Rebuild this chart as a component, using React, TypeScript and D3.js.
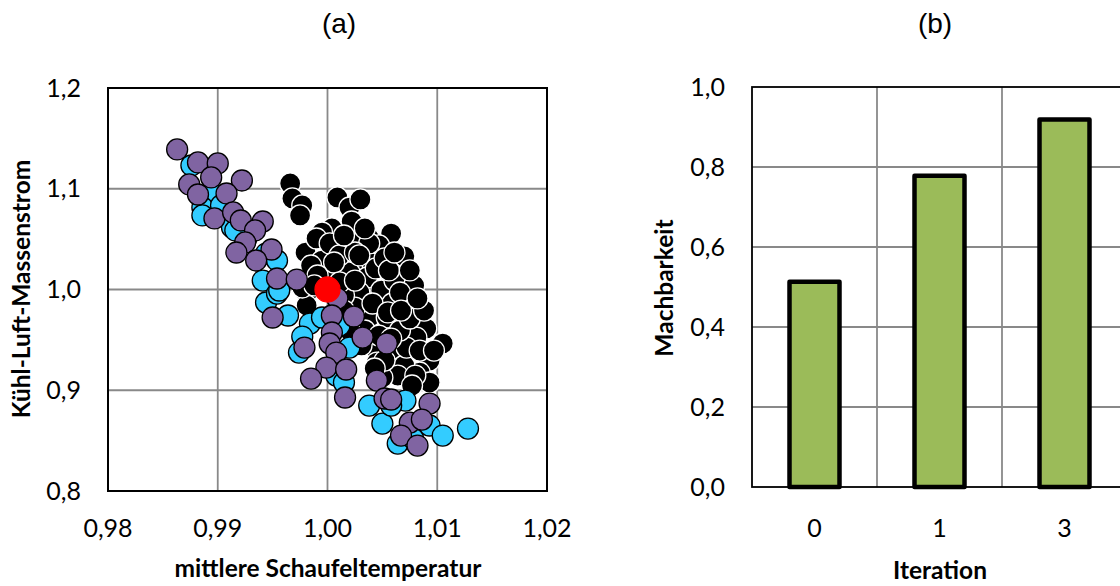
import * as React from "react";
import * as d3 from "d3";

// (a) scatter: [mittlere Schaufeltemperatur, Kühl-Luft-Massenstrom]
const blackPoints: [number, number][] = [
  [0.9966, 1.1053], [0.9968, 1.0904], [0.9977, 1.0834], [0.9975, 1.0735], [1.0009, 1.0914],
  [1.002, 1.0814], [1.003, 1.0894], [1.0022, 1.0675], [1.0004, 1.0606], [0.9995, 1.0566],
  [1.0058, 1.0556], [1.0038, 1.0506], [1.0047, 1.0437], [0.998, 1.0367], [0.9995, 1.0288],
  [1.0017, 1.0268], [1.0032, 1.0238], [1.0018, 1.0209], [1.0008, 1.0189], [1.007, 1.0328],
  [1.0041, 1.0258], [1.0026, 1.0457], [1.0013, 1.0417], [0.999, 1.0506], [1.0002, 1.0457],
  [0.9985, 1.0238], [1.0023, 1.002], [1.0038, 1.002], [1.0059, 1.004], [1.0036, 1.0119],
  [0.9981, 0.996], [1.0038, 1.0457], [1.002, 1.0169], [1.0044, 1.0209], [1.0049, 0.999],
  [1.0061, 1.0089], [1.0079, 1.004], [1.0077, 0.9861], [1.0059, 0.9861], [1.0029, 0.997],
  [1.0063, 0.9643], [1.009, 0.9613], [1.0081, 0.9523], [1.0105, 0.9464], [1.0059, 0.9414],
  [1.0045, 0.9394], [1.0093, 0.9295], [1.0084, 0.9176], [1.0093, 0.9077], [1.007, 0.9245],
  [1.0064, 0.9146], [1.005, 0.9126], [1.0045, 0.9275], [1.0072, 0.9424], [1.0029, 0.9722],
  [1.004, 0.9742], [1.0054, 0.9722], [1.0066, 0.9593], [1.0025, 0.9821], [1.0041, 0.9861],
  [1.008, 0.9146], [0.9981, 0.9841], [0.9977, 1.002], [1.0011, 1.0338], [1.0025, 1.0367],
  [1.0052, 1.0308], [1.0002, 1.0089], [1.0015, 0.994], [1.0055, 0.9772], [1.0034, 0.9593],
  [1.0047, 0.9543], [1.0075, 0.9712], [1.0084, 0.9394], [1.0015, 0.9791], [1.0006, 1.0268],
  [0.9991, 1.0139], [1.0029, 1.0338], [1.0056, 1.0189], [1.0066, 0.997], [1.0088, 0.9791],
  [1.0052, 0.9295], [1.002, 0.9593], [1.0031, 0.9444], [1.0058, 0.9513], [1.0011, 1.007],
  [0.9988, 1.004], [1.0061, 1.0367], [1.0034, 1.0606], [1.0015, 1.0536], [1.0075, 1.0189],
  [1.0097, 0.9394], [1.0077, 0.9047], [1.0043, 0.9216], [1.0067, 0.9791], [1.0082, 0.9911],
  [1.0025, 1.0089],
];

const bluePoints: [number, number][] = [
  [0.9876, 1.1231], [0.9894, 1.0963], [0.9886, 1.0814], [0.9886, 1.0735], [0.9903, 1.0834],
  [0.9913, 1.0616], [0.9926, 1.0506], [0.9944, 1.0357], [0.9954, 1.0288], [0.9941, 1.0089],
  [0.9944, 0.9871], [0.9954, 0.996], [0.9964, 0.9742], [0.9984, 0.9662], [0.9977, 0.9533],
  [0.9974, 0.9374], [1.0008, 0.9146], [1.002, 0.9424], [1.0038, 0.8848], [1.005, 0.8669],
  [1.0071, 0.8898], [1.0093, 0.865], [1.0105, 0.855], [1.0128, 0.862], [1.0064, 0.8471],
  [1.0078, 0.852], [0.9995, 0.9722], [0.9916, 1.0586], [0.9956, 0.999], [1.0011, 0.9643],
  [1.0058, 0.8848], [1.0015, 0.9077],
];

const purplePoints: [number, number][] = [
  [0.9863, 1.139], [0.9882, 1.1261], [0.99, 1.1251], [0.9894, 1.1112], [0.9874, 1.1043],
  [0.9882, 1.0943], [0.9922, 1.1082], [0.9908, 1.0953], [0.9897, 1.0705], [0.9914, 1.0765],
  [0.9921, 1.0685], [0.9941, 1.0675], [0.9934, 1.0586], [0.9925, 1.0467], [0.9917, 1.0367],
  [0.9949, 1.0397], [0.9935, 1.0288], [0.995, 0.9722], [0.9954, 1.0109], [0.9972, 1.0099],
  [1.0009, 0.9911], [1.0004, 0.9742], [1.0024, 0.9732], [1.0004, 0.9573], [0.9979, 0.9424],
  [1.0002, 0.9464], [1.0008, 0.9374], [0.9999, 0.9225], [1.0017, 0.9206], [0.9985, 0.9116],
  [1.0032, 0.9523], [1.0054, 0.9464], [1.0045, 0.9096], [1.0016, 0.8928], [1.0052, 0.8918],
  [1.0058, 0.8908], [1.0093, 0.8868], [1.0075, 0.8679], [1.0086, 0.8709], [1.0067, 0.855],
  [1.0082, 0.8451],
];

const referencePoint: [number, number][] = [[1.0, 1.0]];

const xTicksA = [0.98, 0.99, 1.0, 1.01, 1.02];
const yTicksA = [0.8, 0.9, 1.0, 1.1, 1.2];

// (b) bars
const iterations = ["0", "1", "3"];
const machbarkeit = [0.513, 0.778, 0.919];
const yTicksB = [0, 0.2, 0.4, 0.6, 0.8, 1.0];

const tickFont = "Lato, 'Open Sans', sans-serif";
const titleFont = "'Liberation Sans', Arial, sans-serif";
const tickSize = 25;
const labelSize = 24.5;
const comma = (f: string) => (v: number) => d3.format(f)(v).replace(".", ",");

const Scatter = () => {
  const x = d3.scaleLinear().domain([0.98, 1.02]).range([108, 547]);
  const y = d3.scaleLinear().domain([0.8, 1.2]).range([491, 88]);

  const series = [
    { pts: blackPoints, fill: "#000000", stroke: "#ffffff", r: 10.5 },
    { pts: bluePoints, fill: "#33ccff", stroke: "#000000", r: 10.5 },
    { pts: purplePoints, fill: "#8064a2", stroke: "#000000", r: 10.5 },
    { pts: referencePoint, fill: "#ff0000", stroke: "#ff0000", r: 12.5 },
  ];

  return (
    <g>
      <text x={339} y={33} textAnchor="middle" fontFamily={titleFont} fontSize={28}>
        (a)
      </text>
      {xTicksA.slice(1, -1).map((t) => (
        <line key={"gx" + t} x1={x(t)} x2={x(t)} y1={y(0.8)} y2={y(1.2)} stroke="#898989" strokeWidth={1.8} />
      ))}
      {yTicksA.slice(1, -1).map((t) => (
        <line key={"gy" + t} x1={x(0.98)} x2={x(1.02)} y1={y(t)} y2={y(t)} stroke="#898989" strokeWidth={1.8} />
      ))}
      {series.map((s, i) => (
        <g key={i}>
          {s.pts.map((p, j) => (
            <circle key={j} cx={x(p[0])} cy={y(p[1])} r={s.r} fill={s.fill} stroke={s.stroke} strokeWidth={1.3} />
          ))}
        </g>
      ))}
      <rect x={x(0.98)} y={y(1.2)} width={x(1.02) - x(0.98)} height={y(0.8) - y(1.2)} fill="none" stroke="#000" strokeWidth={2} />
      {xTicksA.map((t) => (
        <text key={"tx" + t} x={x(t)} y={537} textAnchor="middle" fontFamily={tickFont} fontSize={tickSize}>
          {comma(".2f")(t)}
        </text>
      ))}
      {yTicksA.map((t) => (
        <text key={"ty" + t} x={81} y={y(t) + 8.5} textAnchor="end" fontFamily={tickFont} fontSize={tickSize}>
          {comma(".1f")(t)}
        </text>
      ))}
      <text x={328} y={577} textAnchor="middle" fontFamily={tickFont} fontSize={labelSize} fontWeight="bold">
        mittlere Schaufeltemperatur
      </text>
      <text transform={`translate(30,289) rotate(-90)`} textAnchor="middle" fontFamily={tickFont} fontSize={labelSize} fontWeight="bold">
        Kühl-Luft-Massenstrom
      </text>
    </g>
  );
};

const Bars = () => {
  const x = d3.scaleBand().domain(iterations).range([752, 1127]).padding(0);
  const y = d3.scaleLinear().domain([0, 1]).range([487, 87]);
  const barW = x.bandwidth() * 0.4;

  return (
    <g>
      <text x={935} y={33} textAnchor="middle" fontFamily={titleFont} fontSize={28}>
        (b)
      </text>
      {iterations.slice(1).map((c) => (
        <line key={"gx" + c} x1={x(c)} x2={x(c)} y1={y(0)} y2={y(1)} stroke="#898989" strokeWidth={1.8} />
      ))}
      {yTicksB.slice(1, -1).map((t) => (
        <line key={"gy" + t} x1={752} x2={1127} y1={y(t)} y2={y(t)} stroke="#898989" strokeWidth={1.8} />
      ))}
      <rect x={752} y={y(1)} width={1127 - 752} height={y(0) - y(1)} fill="none" stroke="#000" strokeWidth={1.8} />
      {iterations.map((c, i) => (
        <rect
          key={c}
          x={(x(c) as number) + x.bandwidth() / 2 - barW / 2}
          y={y(machbarkeit[i])}
          width={barW}
          height={y(0) - y(machbarkeit[i])}
          fill="#9bbb59"
          stroke="#000"
          strokeWidth={4.5}
          strokeLinejoin="round"
        />
      ))}
      {iterations.map((c) => (
        <text key={"tx" + c} x={(x(c) as number) + x.bandwidth() / 2} y={537} textAnchor="middle" fontFamily={tickFont} fontSize={tickSize}>
          {c}
        </text>
      ))}
      {yTicksB.map((t) => (
        <text key={"ty" + t} x={725} y={y(t) + 8.5} textAnchor="end" fontFamily={tickFont} fontSize={tickSize}>
          {comma(".1f")(t)}
        </text>
      ))}
      <text x={940} y={579} textAnchor="middle" fontFamily={tickFont} fontSize={labelSize} fontWeight="bold">
        Iteration
      </text>
      <text transform={`translate(673,288) rotate(-90)`} textAnchor="middle" fontFamily={tickFont} fontSize={labelSize} fontWeight="bold">
        Machbarkeit
      </text>
    </g>
  );
};

export default function App() {
  return (
    <svg width={1120} height={586} style={{ position: "absolute", left: 0, top: 0, background: "#fff" }}>
      <rect width={1120} height={586} fill="#fff" />
      <Scatter />
      <Bars />
    </svg>
  );
}
